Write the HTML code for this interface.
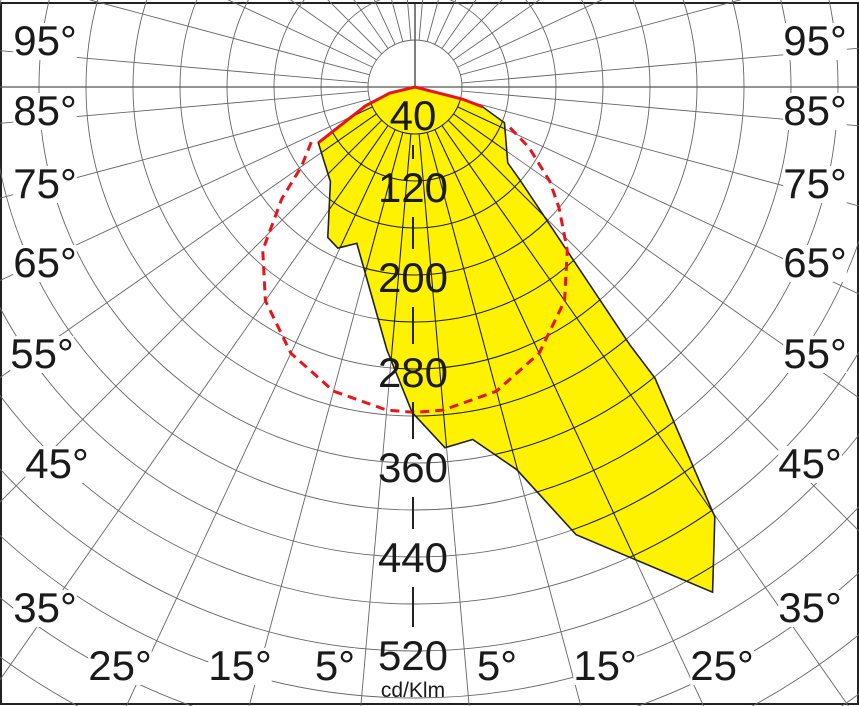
<!DOCTYPE html>
<html><head><meta charset="utf-8"><style>
html,body{margin:0;padding:0;background:#fff;width:859px;height:706px;overflow:hidden}
svg{display:block}
text{font-family:"Liberation Sans",Arial,sans-serif;fill:#1a1a1a}
</style></head><body>
<svg id="chart" width="859" height="706" viewBox="0 0 859 706" xmlns="http://www.w3.org/2000/svg" style="overflow:hidden">
<rect x="1" y="3" width="857" height="701" fill="#fff" stroke="#222" stroke-width="2"/>
<g id="grid"></g>
<g id="series"></g>
<g id="labels"></g>
</svg>
<script>
// ---- data ----
const curveAngles = [180, 75.7, 73.6, 68.2, 50.7, 48.5, 39.8, 39.5, 34.9, 30.5, 19.8, 14.9, 9.3, 4.75, -0.5, -6.1, -20.4, -25.6, -30.1, -41.8, -60, -69.2, -76.5];
const curveValues = [0, 41, 60, 82, 102, 119, 286, 321, 446, 499, 405, 337, 304, 308, 277, 225, 142, 152, 148, 108, 95, 45, 22];
const redEdgeAngles = [-60, -69.2, -76.5, 180, 75.7, 73.6];
const redEdgeValues = [95, 45, 22, 0, 41, 60];
const dashAngles = [-62, -55, -50, -43, -35, -25, -15, -5, 0, 5, 15, 25, 35, 43, 50, 55, 62, 68];
const dashValues = [100, 118, 148, 190, 222, 250, 268, 276, 277, 276, 268, 250, 222, 190, 160, 140, 110, 84];
const radialTickLabels = ["40", "120", "200", "280", "360", "440", "520"];
const radialLabelY = [115, 187, 277, 372, 467, 557, 655];
const angleLabels = ["95°", "85°", "75°", "65°", "55°", "45°", "35°", "25°", "15°", "5°"];

// ---- geometry ----
const CX = 415, CY = 87, S = 47 / 40;
const NS = "http://www.w3.org/2000/svg";
function px(angle, val) {
  const a = angle * Math.PI / 180, r = val * S;
  return [CX + r * Math.sin(a), CY + r * Math.cos(a)];
}
function mk(tag, attrs, parent) {
  const e = document.createElementNS(NS, tag);
  for (const k in attrs) e.setAttribute(k, attrs[k]);
  parent.appendChild(e);
  return e;
}
const grid = document.getElementById('grid');
const series = document.getElementById('series');
const labels = document.getElementById('labels');

for (let k = 1; k <= 17; k++) {
  const c = mk('circle', {cx: CX, cy: CY, r: 47 * k, fill: 'none', stroke: '#666', 'stroke-width': 0.9}, grid);
  
  
}
for (let a = -175; a <= 180; a += 10) {
  const p1 = px(a, 40), p2 = px(a, 800);
  const l = mk('line', {x1: p1[0], y1: p1[1], x2: p2[0], y2: p2[1], stroke: '#666', 'stroke-width': 0.9}, grid);
  
  
}
const hl = mk('line', {x1: 0, y1: CY, x2: 859, y2: CY, stroke: '#555', 'stroke-width': 1.2}, grid);


const vl = mk('line', {x1: CX, y1: 4, x2: CX, y2: CY + 47, stroke: '#555', 'stroke-width': 1.5}, grid);



// curve polygon
const pts = curveAngles.map((a, i) => px(a, curveValues[i]).join(',')).join(' ');
const defs = mk('defs', {}, series);
const cp = mk('clipPath', {id: 'clipc'}, defs);
mk('polygon', {points: pts}, cp);
const poly = mk('polygon', {points: pts, fill: '#fff200', stroke: 'none'}, series);


const inner = mk('g', {'clip-path': 'url(#clipc)'}, series);
for (let k = 1; k <= 12; k++) {
  mk('circle', {cx: CX, cy: CY, r: 47 * k, fill: 'none', stroke: '#222', 'stroke-width': 1.1}, inner);
}
for (let a = -85; a <= 85; a += 10) {
  const p1 = px(a, 40), p2 = px(a, 700);
  mk('line', {x1: p1[0], y1: p1[1], x2: p2[0], y2: p2[1], stroke: '#222', 'stroke-width': 1.1}, inner);
}
const outline = mk('polygon', {points: pts, fill: 'none', stroke: '#222', 'stroke-width': 1.6}, series);



const red = mk('polyline', {points: redEdgeAngles.map((a, i) => px(a, redEdgeValues[i]).join(',')).join(' '), fill: 'none', stroke: '#e8141c', 'stroke-width': 3}, series);



const dash = mk('polyline', {points: dashAngles.map((a, i) => px(a, dashValues[i]).join(',')).join(' '), fill: 'none', stroke: '#e8141c', 'stroke-width': 3, 'stroke-dasharray': '9 6'}, series);



// radial labels
radialTickLabels.forEach((t, i) => {
  const tx = mk('text', {x: 413, y: radialLabelY[i] + 15, 'font-size': 42, 'text-anchor': 'middle'}, labels);
  tx.textContent = t;
  
  
  if (i < radialTickLabels.length - 1) {
    const y1 = radialLabelY[i] + 30, y2 = radialLabelY[i + 1] - 28;
    const tk = mk('line', {x1: 413, y1: y1, x2: 413, y2: y2, stroke: '#222', 'stroke-width': 2}, labels);
    
    
  }
});
const unit = mk('text', {x: 413, y: 697, 'font-size': 21, 'text-anchor': 'middle'}, labels);
unit.textContent = 'cd/Klm';



// angle labels
const leftPos = [[45, 40], [45, 110], [45, 183], [45, 262], [42, 353], [57, 463], [45, 607], [120, 665], [240, 665], [335, 665]];
const rightPos = [[815, 40], [815, 110], [815, 183], [815, 262], [815, 353], [810, 463], [810, 607], [722, 665], [605, 665], [497, 665]];
angleLabels.forEach((t, i) => {
  [leftPos[i], rightPos[i]].forEach((p, j) => {
    const tx = mk('text', {x: p[0], y: p[1] + 15, 'font-size': 42, 'text-anchor': 'middle'}, labels);
    tx.textContent = t;
    
    
    const bb = tx.getBBox();
    const bg = document.createElementNS(NS, 'rect');
    bg.setAttribute('x', bb.x); bg.setAttribute('y', bb.y + 6);
    bg.setAttribute('width', bb.width); bg.setAttribute('height', bb.height - 10);
    bg.setAttribute('fill', '#fff');
    
    
    labels.insertBefore(bg, tx);
  });
});
</script>
</body></html>
